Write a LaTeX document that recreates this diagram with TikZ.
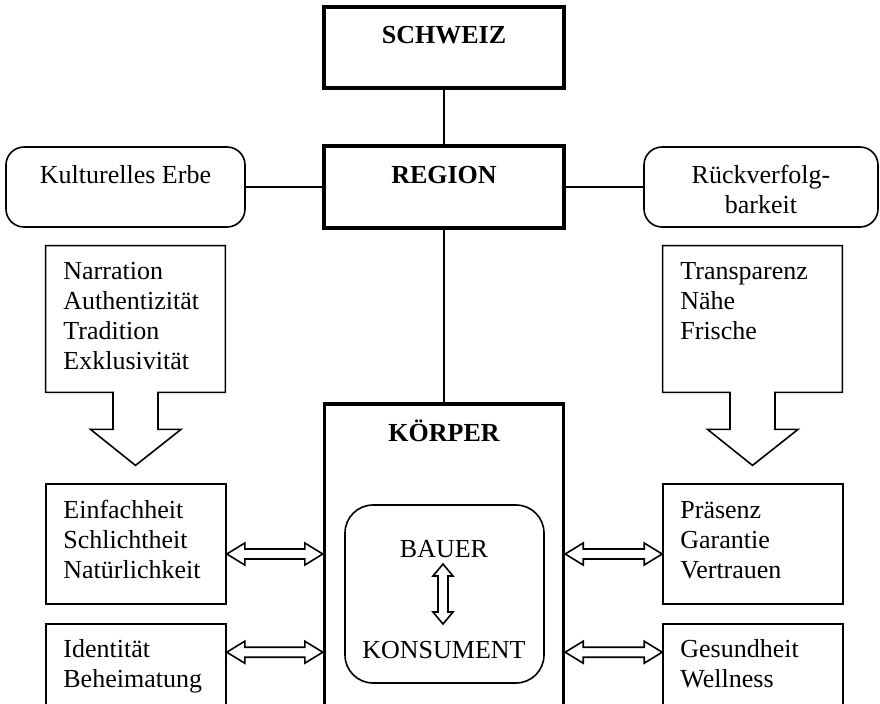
\documentclass[tikz,border=0pt]{standalone}
\usepackage{fontspec}
\setmainfont{Liberation Serif}
\usetikzlibrary{calc}
\newcommand\harrow[2]{\draw[thinline,fill=white] (#1) -- ++(18,-11) -- ++(0,6) -- ($(#2)+(-18,-5)$) -- ++(0,-6) -- (#2) -- ++(-18,11) -- ++(0,-6) -- ($(#1)+(18,5)$) -- ++(0,6) -- cycle;}
\newcommand\varrow[2]{\draw[thinline,fill=white] (#1) -- ++(10,12) -- ++(-5,0) -- ($(#2)+(5,-12)$) -- ++(5,0) -- (#2) -- ++(-10,-12) -- ++(5,0) -- ($(#1)+(-5,12)$) -- ++(-5,0) -- cycle;}
\tikzset{
  thinline/.style={line width=0.8pt, line join=miter},
  thickbox/.style={draw, line width=1.7pt, inner sep=0pt},
  plainbox/.style={draw, thinline, inner sep=0pt},
  roundbox/.style={draw, thinline, rounded corners=9pt, inner sep=0pt},
  txt/.style={inner sep=0pt, font=\fontsize{13}{15}\selectfont},
  btxt/.style={inner sep=0pt, font=\fontsize{13}{15}\selectfont\bfseries},
}
\begin{document}
\begin{tikzpicture}[x=0.5pt,y=-0.5pt]
\useasboundingbox (0,0) rectangle (880,703);
\clip (0,0) rectangle (880,703);

% top boxes
\node[thickbox, minimum width=120pt, minimum height=40.5pt] (schweiz) at (444,47.5) {};
\node[btxt, anchor=base] (schweizt) at (444,43) {SCHWEIZ};
\node[thickbox, minimum width=120pt, minimum height=41pt] (region) at (444,187) {};
\node[btxt, anchor=base] (regiont) at (444,183) {REGION};
\node[roundbox, minimum width=119.5pt, minimum height=40pt] (kult) at (125.5,187) {};
\node[txt, anchor=base] (kultt) at (125.5,183) {Kulturelles Erbe};
\node[roundbox, minimum width=117pt, minimum height=40pt] (rueck) at (761,187) {};
\node[txt, anchor=north, align=center] (rueckt) at (761,165) {Rückverfolg-\\barkeit};

\draw[thinline] (schweiz.south) -- (region.north);
\draw[thinline] (kult.east) -- (region.west);
\draw[thinline] (region.east) -- (rueck.west);

% big down arrows
\node[minimum width=89.5pt, minimum height=73pt, inner sep=0pt] (narr) at (135.5,319) {};
\draw[thinline] (narr.south west) -- (narr.north west) -- (narr.north east) -- (narr.south east)
  -- ($(narr.south)+(22.5,0)$) -- ++(0,37) -- ++(23,0) -- ($(narr.south)+(0,73)$)
  -- ($(narr.south)+(-45,37)$) -- ++(22.5,0) -- ($(narr.south)+(-22.5,0)$) -- cycle;
\node[txt, anchor=north west, align=left] (narrt) at (63,262) {Narration\\Authentizität\\Tradition\\Exklusivität};

\node[minimum width=89.5pt, minimum height=73pt, inner sep=0pt] (transp) at (752.5,319) {};
\draw[thinline] (transp.south west) -- (transp.north west) -- (transp.north east) -- (transp.south east)
  -- ($(transp.south)+(22.5,0)$) -- ++(0,37) -- ++(23,0) -- ($(transp.south)+(0,73)$)
  -- ($(transp.south)+(-45,37)$) -- ++(22.5,0) -- ($(transp.south)+(-22.5,0)$) -- cycle;
\node[txt, anchor=north west, align=left] (transpt) at (680,262) {Transparenz\\Nähe\\Frische};

% KOERPER
\node[thickbox, minimum width=119.5pt, minimum height=178pt] (koerper) at (444,582) {};
\node[btxt, anchor=base] (koerpert) at (444,441) {KÖRPER};
\draw[thinline] (region.south) -- (koerper.north);
\node[draw, thinline, rounded corners=14pt, minimum width=99.5pt, minimum height=89pt, inner sep=0pt] (inner) at (444.5,594) {};
\node[txt, anchor=base] (bauer) at (444,557) {BAUER};
\node[txt, anchor=base] (konsument) at (444,658) {KONSUMENT};
\coordinate (vtop) at ($(bauer.base)+(-1,7)$);
\coordinate (vbot) at ($(bauer.base)+(-1,67)$);
\varrow{vtop}{vbot}

% side boxes
\node[plainbox, minimum width=90pt, minimum height=60pt] (einf) at (136,544) {};
\node[txt, anchor=north west, align=left] (einft) at (63,500) {Einfachheit\\Schlichtheit\\Natürlichkeit};
\node[plainbox, minimum width=90pt, minimum height=68pt] (ident) at (136,692) {};
\node[txt, anchor=north west, align=left] (identt) at (63,639) {Identität\\Beheimatung};
\node[plainbox, minimum width=90pt, minimum height=60pt] (praes) at (753,544) {};
\node[txt, anchor=north west, align=left] (praest) at (680,501) {Präsenz\\Garantie\\Vertrauen};
\node[plainbox, minimum width=90pt, minimum height=68pt] (gesund) at (753,692) {};
\node[txt, anchor=north west, align=left] (gesundt) at (680,639) {Gesundheit\\Wellness};

% double arrows
\coordinate (la1) at ($(einf.east)+(0,10)$);
\coordinate (lb1) at (la1 -| koerper.west);
\coordinate (la2) at ($(ident.north east)+(0,29)$);
\coordinate (lb2) at (la2 -| koerper.west);
\coordinate (ra1) at ($(praes.west)+(0,10)$);
\coordinate (rb1) at (ra1 -| koerper.east);
\coordinate (ra2) at ($(gesund.north west)+(0,29)$);
\coordinate (rb2) at (ra2 -| koerper.east);
\harrow{la1}{lb1}
\harrow{la2}{lb2}
\harrow{rb1}{ra1}
\harrow{rb2}{ra2}
\end{tikzpicture}
\end{document}
